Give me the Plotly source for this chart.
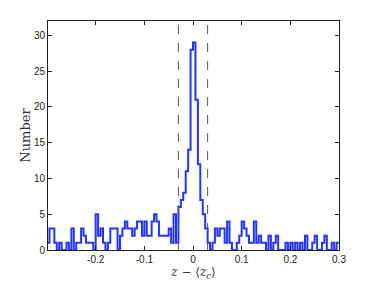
import numpy as np
import plotly.graph_objects as go

# ================== data ==================
# histogram counts, bins of 0.005 starting at -0.3
bin_start = -0.3
bin_width = 0.005
counts = [
    1, 3, 3, 1, 0, 1, 0, 0, 1, 0,
    3, 0, 1, 1, 3, 2, 1, 1, 1, 0,
    5, 2, 3, 1, 0, 1, 3, 3, 3, 0,
    2, 3, 4, 3, 3, 2, 3, 4, 4, 2,
    4, 2, 2, 4, 5, 4, 2, 2, 2, 2,
    3, 1, 5, 1, 6, 7, 8, 11, 14, 28,
    29, 21, 12, 7, 5, 3, 1, 0, 1, 3,
    2, 3, 3, 1, 4, 1, 0, 0, 1, 2,
    4, 3, 2, 1, 1, 4, 1, 2, 1, 1,
    0, 2, 0, 1, 2, 0, 0, 0, 1, 0,
    1, 0, 1, 0, 1, 0, 2, 0, 0, 1,
    2, 0, 0, 1, 2, 0, 0, 1, 0, 1,
]
cut_lines = [-0.03, 0.03]
x_ticks = [-0.2, -0.1, 0, 0.1, 0.2, 0.3]
x_ticktext = ["-0.2", "-0.1", "0", "0.1", "0.2", "0.3"]
y_ticks = [0, 5, 10, 15, 20, 25, 30]

edges = bin_start + bin_width * np.arange(len(counts) + 1)
step_y = counts + [counts[-1]]

fig = go.Figure()

# dashed cut lines
for xc in cut_lines:
    fig.add_shape(type="line", xref="x", yref="paper", x0=xc, x1=xc, y0=0, y1=1,
                  line=dict(color="#555555", width=1, dash="dash"))

# step histogram
fig.add_trace(go.Scatter(
    x=edges, y=step_y, mode="lines", line_shape="hv",
    line=dict(color="#2236ff", width=2),
    showlegend=False, hoverinfo="skip",
))

axis_common = dict(
    showline=True, linecolor="#222222", linewidth=1, mirror="allticks",
    ticks="inside", ticklen=4, tickcolor="#222222",
    showgrid=False, zeroline=False, automargin=False,
    tickfont=dict(family="Liberation Sans, Arial", size=10, color="#222222"),
)

fig.update_xaxes(
    range=[-0.298, 0.3], tickvals=x_ticks, ticktext=x_ticktext,
    title=dict(text="<i>z</i> − ⟨<i>z</i><sub><i>c</i></sub>⟩", standoff=2,
               font=dict(family="DejaVu Serif", size=12, color="#333333")),
    **axis_common,
)
fig.update_yaxes(
    range=[0, 32], tickvals=y_ticks,
    title=dict(text="Number", standoff=0,
               font=dict(family="DejaVu Serif", size=13, color="#333333")),
    **axis_common,
)

fig.update_layout(
    width=374, height=282,
    margin=dict(l=48, r=35, t=21, b=32),
    paper_bgcolor="white", plot_bgcolor="white",
)

# drop the default page margin so the figure sits at the window corner
fig.write_html("out.html", config={"displayModeBar": False},
               post_script="document.body.style.margin='0';")
